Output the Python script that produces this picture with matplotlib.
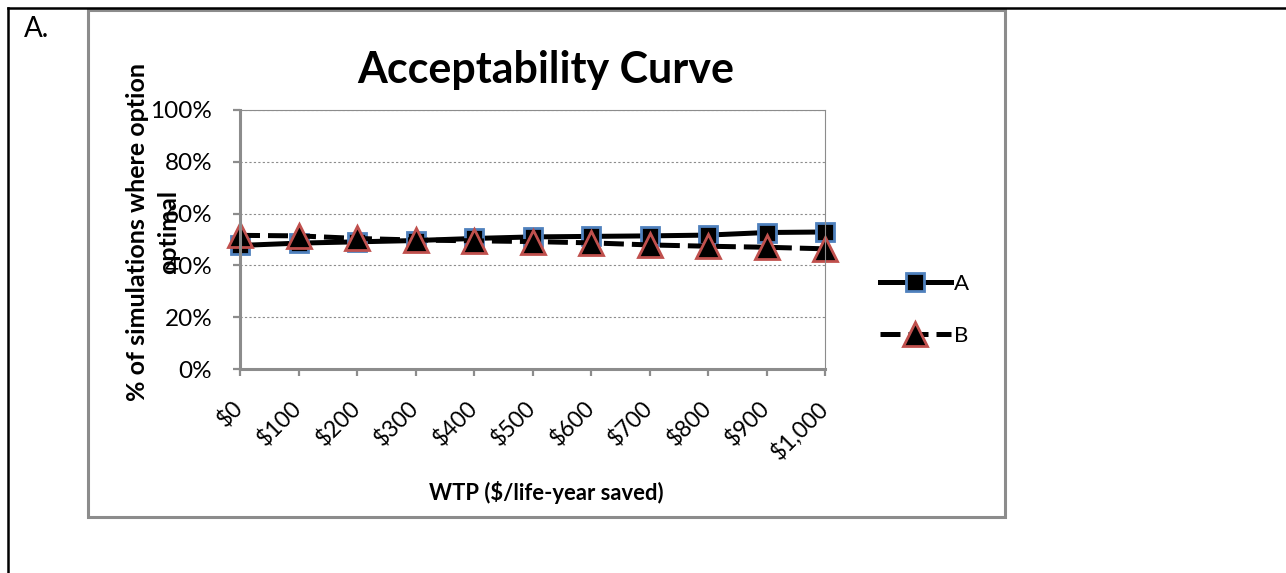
import matplotlib
matplotlib.use("Agg")
import matplotlib.pyplot as plt
from matplotlib.lines import Line2D
from matplotlib.patches import Rectangle
from matplotlib.ticker import PercentFormatter

# data
wtp = [0, 100, 200, 300, 400, 500, 600, 700, 800, 900, 1000]
wtp_labels = [r'\$0', r'\$100', r'\$200', r'\$300', r'\$400', r'\$500',
              r'\$600', r'\$700', r'\$800', r'\$900', r'\$1,000']
pct_a = [47.7, 48.6, 49.1, 49.6, 50.4, 51.0, 51.2, 51.4, 51.7, 52.7, 52.9]
pct_b = [51.6, 51.4, 50.4, 49.8, 49.5, 49.2, 48.7, 47.9, 47.4, 47.0, 46.4]

plt.rcParams['font.family'] = ['Lato', 'DejaVu Sans']
W, H = 1286, 573
GRAY = '#8c8c8c'

fig = plt.figure(figsize=(W / 100, H / 100), dpi=100)

def fx(x):
    return x / W

def fy(y):
    return 1 - y / H

# outer black box (only top and left visible) and gray chart frame
fig.add_artist(Line2D([fx(8), 1.01], [fy(8), fy(8)], color='black', lw=1.8))
fig.add_artist(Line2D([fx(8), fx(8)], [fy(8), -0.01], color='black', lw=1.8))
fig.add_artist(Rectangle((fx(88), fy(517)), fx(1005) - fx(88), fy(10) - fy(517),
                         transform=fig.transFigure, fill=False, ec=GRAY, lw=2.2))
fig.text(fx(24), fy(29), 'A.', fontsize=20, va='center', ha='left')

ax = fig.add_axes([fx(240), fy(369), fx(825) - fx(240), fy(110) - fy(369)])

ax.plot(wtp, pct_a, color='black', lw=3.6, marker='s', ms=13.5,
        mfc='black', mec='#4f81bd', mew=2, label='A', clip_on=False)
ax.plot(wtp, pct_b, color='black', lw=3.6, ls=(0, (4, 1.6)), marker='^', ms=17,
        mfc='black', mec='#c0504d', mew=2, label='B', clip_on=False)

ax.set_xlim(0, 1000)
ax.set_ylim(0, 100)
ax.set_yticks([0, 20, 40, 60, 80, 100])
ax.yaxis.set_major_formatter(PercentFormatter(xmax=100, decimals=0))
ax.set_xticks(wtp)
ax.set_xticklabels(wtp_labels, rotation=45, ha='right', va='center',
                   rotation_mode='anchor')
ax.grid(axis='y', color=GRAY, lw=0.8, ls=(0, (2, 2)))
ax.set_axisbelow(True)

for side in ['left', 'bottom']:
    ax.spines[side].set_color(GRAY)
    ax.spines[side].set_linewidth(2.2)
for side in ['top', 'right']:
    ax.spines[side].set_color(GRAY)
    ax.spines[side].set_linewidth(0.8)
ax.tick_params(axis='both', direction='out', length=5, width=1.6, color=GRAY)
ax.tick_params(axis='x', pad=21, labelsize=16.5)
ax.tick_params(axis='y', pad=15, labelsize=17.5)

fig.text(fx(546), fy(70), 'Acceptability Curve', fontsize=31, fontweight='bold',
         ha='center', va='center')
fig.text(fx(546), fy(492), 'WTP (\\$/life-year saved)', fontsize=15.8,
         fontweight='bold', ha='center', va='center')
# two-line axis title, second line sits over the tick labels as in the original
fig.text(fx(153), fy(232), '% of simulations where option\noptimal', fontsize=18,
         fontweight='bold', rotation=90, ha='center', va='center',
         multialignment='center', linespacing=1.4)

fig.legend(loc='center left', bbox_to_anchor=(fx(871), fy(310)), frameon=False,
           fontsize=16, handlelength=3.2, handletextpad=0.15, labelspacing=1.45,
           borderaxespad=0)

plt.savefig('out.png', dpi=100)
plt.close()
